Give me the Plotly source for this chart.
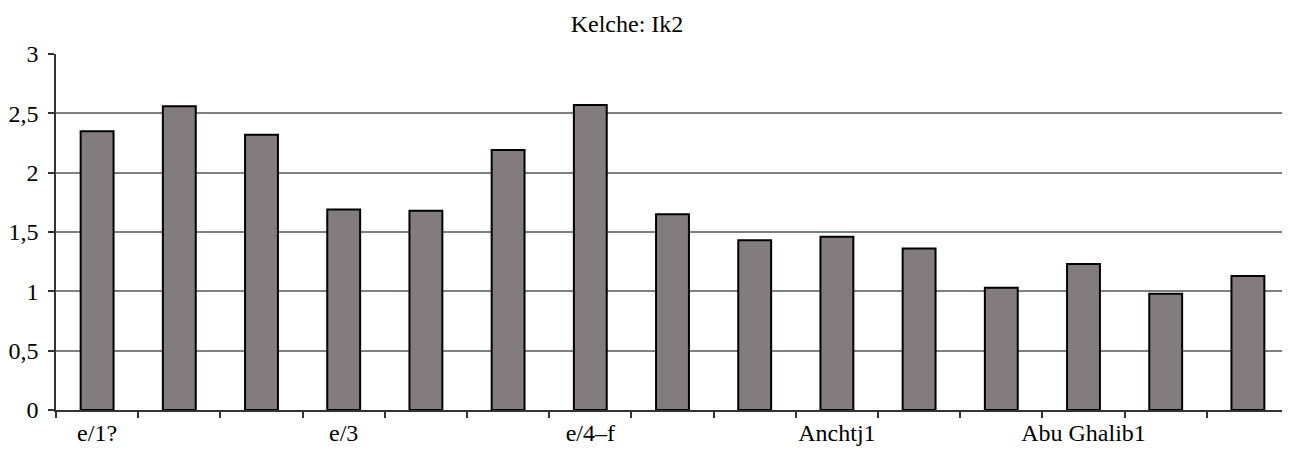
import plotly.graph_objects as go

# Data
labels = ["e/1?", "", "", "e/3", "", "", "e/4–f", "", "", "Anchtj1", "", "", "Abu Ghalib1", "", ""]
values = [2.35, 2.56, 2.32, 1.69, 1.68, 2.19, 2.57, 1.65, 1.43, 1.46, 1.36, 1.03, 1.23, 0.98, 1.13]
title_text = "Kelche: Ik2"
y_ticks = [0, 0.5, 1, 1.5, 2, 2.5, 3]

positions = list(range(len(values)))
tickvals = [p for p, l in zip(positions, labels) if l]
ticktext = [l for l in labels if l]
boundaries = [p - 0.5 for p in positions] + [positions[-1] + 0.5]

FONT = "Liberation Serif, Times New Roman, serif"
W, H = 1282, 445  # page body has an 8px default margin

fig = go.Figure(
    go.Bar(
        x=positions,
        y=values,
        width=0.4,
        marker=dict(color="#837c7e", line=dict(color="black", width=2)),
    )
)

fig.update_layout(
    width=W,
    height=H,
    margin=dict(l=48, r=1, t=46, b=43),
    paper_bgcolor="white",
    plot_bgcolor="white",
    separators=", ",
    showlegend=False,
    font=dict(family=FONT, size=24, color="black"),
    title=dict(
        text=title_text,
        x=619 / W,
        xanchor="center",
        xref="container",
        y=1 - 16 / H,
        yanchor="middle",
        yref="container",
        font=dict(family=FONT, size=24, color="black"),
    ),
    xaxis=dict(
        range=[-0.5, len(values) - 0.5],
        tickmode="array",
        tickvals=tickvals,
        ticktext=ticktext,
        ticks="",
        showgrid=False,
        zeroline=False,
        showline=True,
        linecolor="#333333",
        linewidth=1.5,
        tickfont=dict(family=FONT, size=24, color="black"),
        minor=dict(
            tickmode="array",
            tickvals=boundaries,
            ticks="outside",
            ticklen=6,
            tickwidth=1.5,
            tickcolor="#333333",
            showgrid=False,
        ),
    ),
    yaxis=dict(
        range=[0, 3],
        tickmode="array",
        tickvals=y_ticks,
        ticks="outside",
        ticklen=6,
        tickwidth=1.5,
        tickcolor="#333333",
        showgrid=True,
        gridcolor="#808080",
        gridwidth=1.5,
        zeroline=False,
        showline=True,
        linecolor="#333333",
        linewidth=1.5,
        ticklabelstandoff=5,
        tickfont=dict(family=FONT, size=24, color="black"),
    ),
    shapes=[
        dict(
            type="line",
            xref="x domain",
            yref="y domain",
            x0=1, x1=1, y0=0, y1=1,
            line=dict(color="#808080", width=1.5),
        )
    ],
)

fig.write_html("out.html")
